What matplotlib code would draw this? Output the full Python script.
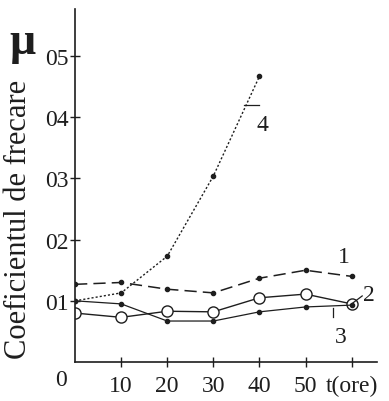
import matplotlib
matplotlib.use("Agg")
import matplotlib.pyplot as plt

# data
t = [0, 10, 20, 30, 40, 50, 60]
mu_1 = [0.127, 0.130, 0.119, 0.113, 0.137, 0.150, 0.140]
mu_2 = [0.080, 0.073, 0.083, 0.082, 0.105, 0.111, 0.095]
mu_3 = [0.100, 0.095, 0.067, 0.067, 0.082, 0.090, 0.093]
t_4 = [0, 10, 20, 30, 40]
mu_4 = [0.100, 0.113, 0.173, 0.304, 0.467]

y_ticks = [0.1, 0.2, 0.3, 0.4, 0.5]
y_tick_labels = ["01", "02", "03", "04", "05"]
x_ticks = [10, 20, 30, 40, 50, 60]
x_tick_labels = ["10", "20", "30", "40", "50", "t(ore)"]

plt.rcParams["font.family"] = ["Liberation Serif", "DejaVu Serif"]
ink = "#1e1e1e"

fig = plt.figure(figsize=(3.89, 4.02), dpi=100)
ax = fig.add_axes([0.193, 0.097, 0.776, 0.878])

ax.plot(t, mu_1, color=ink, lw=1.1, ls=(0, (8, 4)), marker="o", ms=3)
ax.plot(t, mu_2, color=ink, lw=1.0, marker="o", ms=8, mfc="white", mew=1.0)
ax.plot(t, mu_3, color=ink, lw=0.9, marker="o", ms=3)
ax.plot(t_4, mu_4, color=ink, lw=1.0, ls=(0, (1.5, 1.5)), marker="o", ms=3)

ax.set_xlim(0, 65.5)
ax.set_ylim(0, 0.577)
for side in ["top", "right"]:
    ax.spines[side].set_visible(False)
for side in ["left", "bottom"]:
    ax.spines[side].set_linewidth(1.2)
    ax.spines[side].set_color(ink)

ax.set_xticks(x_ticks)
ax.set_xticklabels(x_tick_labels)
ax.set_yticks(y_ticks)
ax.set_yticklabels(y_tick_labels)
ax.tick_params(direction="inout", length=7, width=1, colors=ink, labelsize=17)
ax.tick_params(axis="x", pad=6)
ax.tick_params(axis="y", pad=1)

# origin label and axis titles
ax.text(-1.8, -0.028, "0", fontsize=17, ha="right", va="center", color=ink)
fig.text(0.058, 0.893, "μ", fontsize=33, fontweight="bold", ha="center",
         va="center", color=ink)
fig.text(0.048, 0.455, "Coeficientul de frecare", fontsize=22, rotation=90,
         ha="center", va="center", color=ink)

# curve numbers with leader lines
ax.text(58.3, 0.172, "1", fontsize=17, ha="center", va="center", color=ink)
ax.text(63.7, 0.111, "2", fontsize=17, ha="center", va="center", color=ink)
ax.plot([60, 62.3], [0.095, 0.108], color=ink, lw=0.9)
ax.text(57.6, 0.042, "3", fontsize=17, ha="center", va="center", color=ink)
ax.plot([55.9, 55.9], [0.074, 0.089], color=ink, lw=0.9)
ax.text(40.7, 0.389, "4", fontsize=17, ha="center", va="center", color=ink)
ax.plot([36.7, 40.0], [0.42, 0.42], color=ink, lw=0.9)

fig.savefig("out.png", dpi=100, facecolor="white")
